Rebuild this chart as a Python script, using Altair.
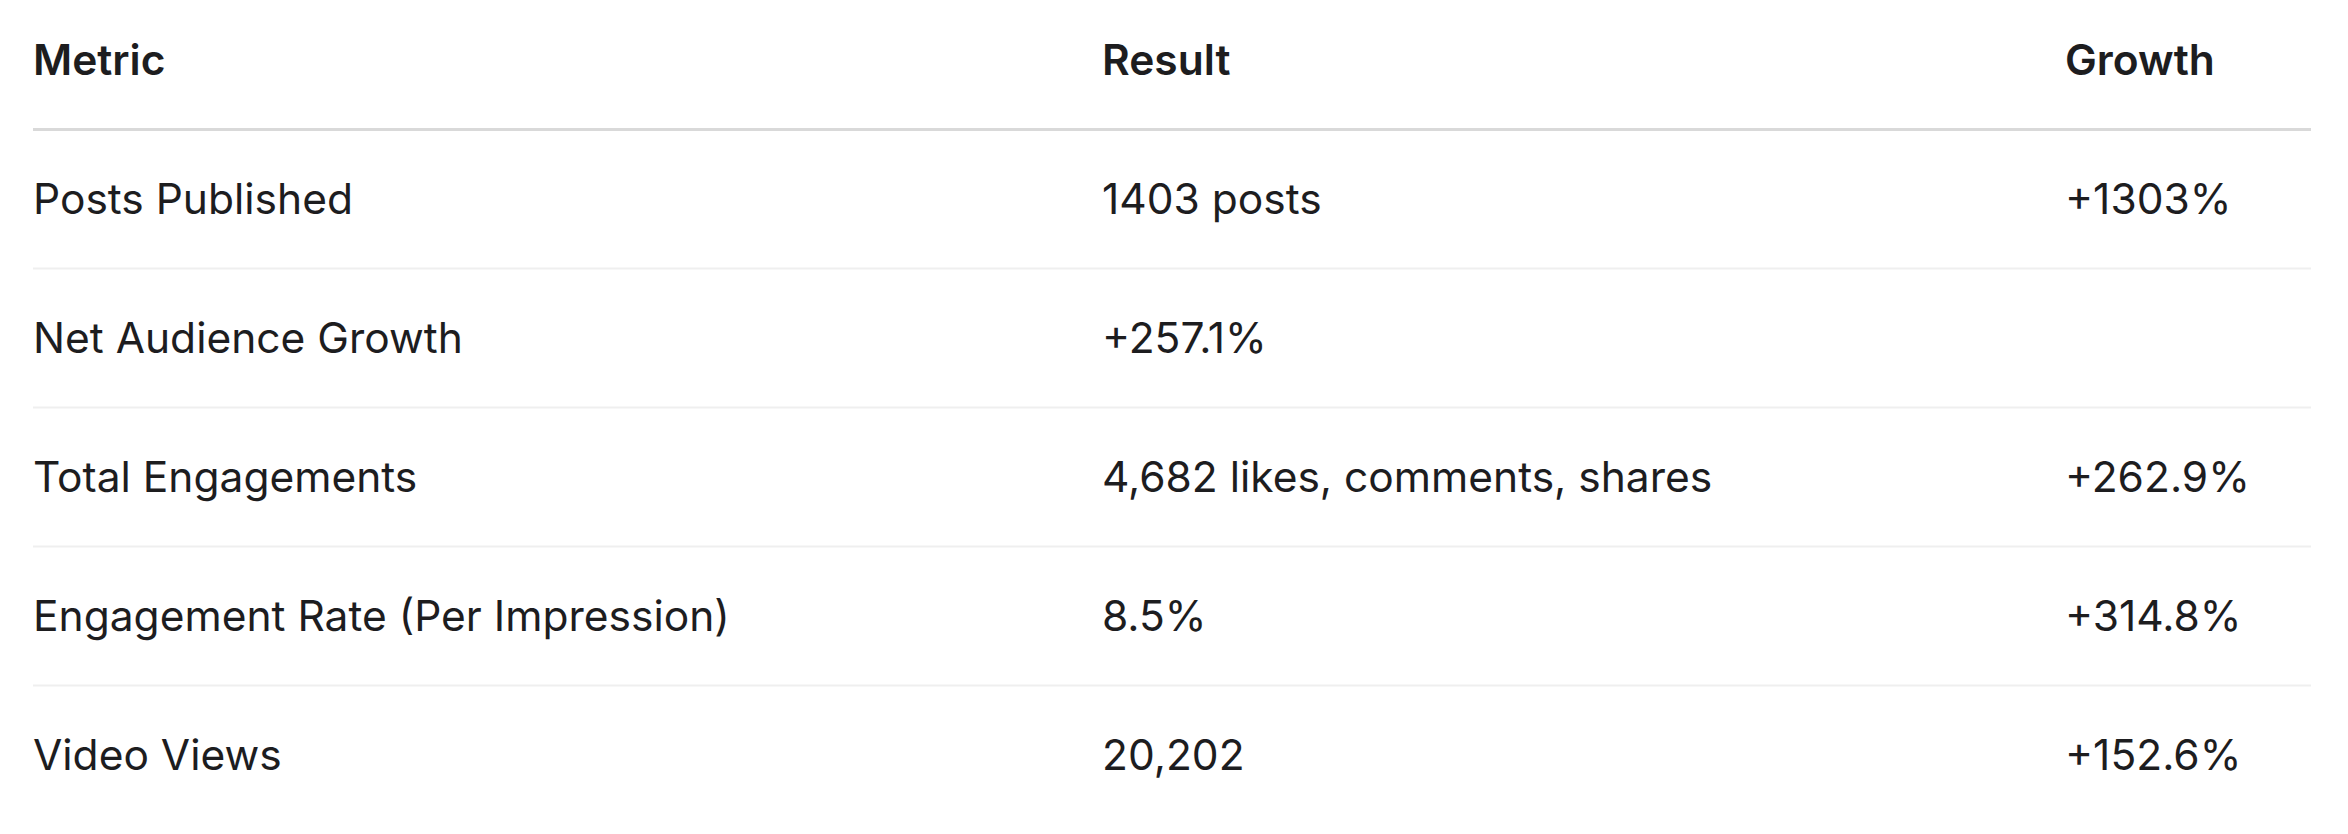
import altair as alt
import pandas as pd

# Table content
columns = ["Metric", "Result", "Growth"]
metrics = [
    "Posts Published",
    "Net Audience Growth",
    "Total Engagements",
    "Engagement Rate (Per Impression)",
    "Video Views",
]
results = ["1403 posts", "+257.1%", "4,682 likes, comments, shares", "8.5%", "20,202"]
growth = ["+1303%", "", "+262.9%", "+314.8%", "+152.6%"]

# Header cells (row 0) and body cells (rows 1..n)
header = pd.DataFrame({"row": 0, "col": range(len(columns)), "text": columns})
body = []
for i, row in enumerate(zip(metrics, results, growth), start=1):
    for c, val in enumerate(row):
        body.append({"row": i, "col": c, "text": val})
body = pd.DataFrame(body)

# Separator lines sit between rows
lines = pd.DataFrame({
    "pos": [i + 0.5 for i in range(len(metrics))],
    "kind": ["header"] + ["body"] * (len(metrics) - 1),
})

x_scale = alt.Scale(domain=[0, 1, 2], range=[25, 1094, 2057])
y_scale = alt.Scale(domain=[-0.374, 5.511], reverse=True, zero=False, nice=False)


def text_layer(df, weight):
    return alt.Chart(df).mark_text(
        align="left", baseline="middle", font="Inter", fontSize=42.5,
        fontWeight=weight, color="#1d1d1f", dy=2
    ).encode(
        x=alt.X("col:Q", scale=x_scale, axis=None),
        y=alt.Y("row:Q", scale=y_scale, axis=None),
        text="text:N",
    )


rules = alt.Chart(lines).mark_rule().encode(
    x=alt.value(25),
    x2=alt.value(2303),
    y=alt.Y("pos:Q", scale=y_scale, axis=None),
    color=alt.Color("kind:N", scale=alt.Scale(domain=["header", "body"], range=["#d9d9d9", "#efefef"]), legend=None),
    strokeWidth=alt.StrokeWidth("kind:N", scale=alt.Scale(domain=["header", "body"], range=[3, 2]), legend=None),
)

chart = alt.layer(rules, text_layer(header, 600), text_layer(body, 400)).properties(
    width=2332,
    height=818,
    autosize=alt.AutoSizeParams(type="none"),
    padding=0,
).configure_view(stroke=None)

chart.save("out.html", embed_options={"renderer": "svg", "actions": False})
